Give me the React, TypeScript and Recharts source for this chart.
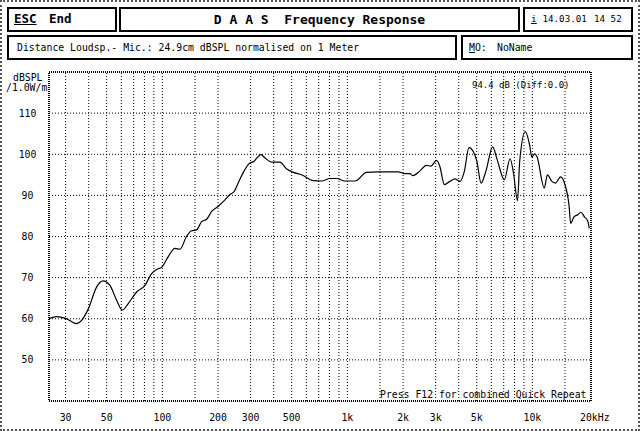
import React from "react";
import { LineChart, Line, XAxis, YAxis, ReferenceLine, ReferenceArea } from "recharts";

const freqHz = [
  24.4, 26.8, 30, 34.4, 36.6, 39.8, 44.1, 47.9, 52.1, 56.6, 60.7, 65.4, 72.6, 80.5, 87.5, 93.1, 99,
  107.6, 117, 124.5, 135, 144, 153, 163, 173.6, 184.7, 200, 218, 232, 245, 257, 274, 291, 313, 341,
  359, 390, 432, 470, 511, 566, 655, 726, 807, 875, 968, 1104, 1270, 1470, 1886, 2045, 2175, 2265,
  2460, 2676, 2825, 3030, 3160, 3344, 3583, 3817, 4066, 4290, 4540, 4800, 5010, 5280, 5610, 6100,
  6450, 7050, 7575, 7900, 8310, 8540, 9150, 9650, 9935, 10260, 10570, 11600, 12050, 12750, 13320,
  14200, 15000, 15800, 16100, 16800, 17600, 18300, 19100, 19900, 20300,
];
const splDb = [
  60.0, 60.5, 60.1, 58.8, 59.6, 62.4, 67.7, 69.2, 68.1, 64.5, 62.1, 63.7, 66.5, 68.1, 71.0, 72.0, 72.5,
  75.1, 77.1, 76.9, 80.0, 81.4, 81.6, 83.6, 84.2, 86.1, 87.3, 88.9, 90.2, 91.0, 93.0, 95.6, 97.5, 98.3, 99.9,
  99.1, 98.1, 98.1, 96.4, 95.6, 95.0, 93.6, 93.5, 94.1, 94.1, 93.5, 93.5, 95.6, 95.7, 95.7, 95.3, 95.3, 94.8,
  95.9, 97.3, 97.1, 98.5, 97.1, 92.6, 93.4, 94.0, 93.4, 95.9, 101.6, 100.6, 98.3, 93.0, 95.9, 101.8,
  98.7, 93.8, 98.9, 95.5, 88.7, 98.3, 105.5, 102.4, 99.3, 100.1, 99.5, 91.8, 95.0, 93.4, 93.0,
  94.5, 92.6, 87.3, 83.2, 84.8, 85.3, 85.9, 84.8, 83.8, 82.0,
];

const gridFreqs = [
  30, 40, 50, 60, 70, 80, 90, 100, 150, 200, 300, 400, 500, 600, 700, 800, 900, 1000, 1500, 2000,
  3000, 4000, 5000, 6000, 7000, 8000, 9000, 10000, 15000,
];
const freqTicks = [30, 50, 100, 200, 300, 500, 1000, 2000, 3000, 5000, 10000, 20000];
const levelTicks = [50, 60, 70, 80, 90, 100, 110];
const freqDomain = [24.4, 20740];
const levelDomain = [40, 120];

const data = freqHz.map((f, i) => ({ f, db: splDb[i] }));

const mono = '"DejaVu Sans Mono", monospace';

function fmtFreq(v: number) {
  if (v === 20000) return "20kHz";
  return v >= 1000 ? `${v / 1000}k` : String(v);
}

function XTick(props: any) {
  const { x, y, payload } = props;
  const last = payload.value === 20000;
  return (
    <text
      x={last ? x - 8 : x}
      y={y + 18}
      textAnchor={last ? "start" : "middle"}
      fontFamily={mono}
      fontSize={9.8}
      fill="#000"
    >
      {fmtFreq(payload.value)}
    </text>
  );
}

function YTick(props: any) {
  const { x, y, payload } = props;
  return (
    <text x={x - 19.5} y={y + 3.5} textAnchor="middle" fontFamily={mono} fontSize={9.8} fill="#000">
      {payload.value}
    </text>
  );
}

function Txt({ x, y, size = 9.8, bold, children, style }: any) {
  return (
    <div
      style={{
        position: "absolute",
        left: x,
        top: y - 7,
        lineHeight: "14px",
        fontSize: size,
        fontFamily: mono,
        fontWeight: bold ? "bold" : "normal",
        whiteSpace: "pre",
        color: "#000",
        ...style,
      }}
    >
      {children}
    </div>
  );
}

function Box({ x, y, w, h }: any) {
  return (
    <div
      style={{
        position: "absolute",
        left: x,
        top: y,
        width: w,
        height: h,
        border: "2px solid #000",
        boxSizing: "border-box",
      }}
    />
  );
}

export default function App() {
  return (
    <div
      style={{
        position: "fixed",
        left: 0,
        top: 0,
        width: 640,
        height: 431,
        background: "#fff",
        overflow: "hidden",
      }}
    >
      <div
        style={{
          position: "absolute",
          inset: 0,
          border: "2px dotted #555",
          boxSizing: "border-box",
        }}
      />

      <Box x={7} y={7} w={110} h={25} />
      <Box x={119} y={7} w={401} h={25} />
      <Box x={523} y={7} w={110} h={25} />
      <Box x={7} y={35} w={450} h={25} />
      <Box x={461} y={35} w={172} h={25} />

      <Txt x={14} y={19} size={12.5} bold style={{ textDecoration: "underline" }}>
        ESC
      </Txt>
      <Txt x={49} y={19} size={12.5} bold>
        End
      </Txt>
      <Txt x={119} y={19.5} size={13} bold style={{ width: 401, textAlign: "center" }}>
        D A A S  Frequency Response
      </Txt>
      <Txt x={531} y={19} size={9.5} style={{ textDecoration: "underline" }}>
        i
      </Txt>
      <Txt x={542.5} y={19} size={9.2}>
        14.03.01
      </Txt>
      <Txt x={594} y={19} size={9.2}>
        14 52
      </Txt>
      <Txt x={17} y={47.5}>
        Distance Loudsp.- Mic.: 24.9cm dBSPL normalised on 1 Meter
      </Txt>
      <Txt x={469} y={47.5}>
        <span style={{ textDecoration: "underline" }}>M</span>O:
      </Txt>
      <Txt x={497} y={47.5}>
        NoName
      </Txt>

      <div style={{ position: "absolute", left: 0, top: 0 }}>
        <LineChart width={640} height={431} data={data} margin={{ top: 72, right: 49, bottom: 0, left: 0 }}>
          <XAxis
            dataKey="f"
            type="number"
            scale="log"
            domain={freqDomain}
            ticks={freqTicks}
            interval={0}
            allowDataOverflow
            height={30}
            axisLine={false}
            tickLine={false}
            tickSize={0}
            tick={XTick}
          />
          <YAxis
            type="number"
            domain={levelDomain}
            ticks={levelTicks}
            interval={0}
            allowDataOverflow
            width={49}
            axisLine={false}
            tickLine={false}
            tickSize={0}
            tick={YTick}
          />
          {levelTicks.map((v) => (
            <ReferenceLine key={`h${v}`} y={v} stroke="#000" strokeDasharray="1 2" />
          ))}
          {gridFreqs.map((f) => (
            <ReferenceLine key={`v${f}`} x={f} stroke="#000" strokeDasharray="1 2" />
          ))}
          <ReferenceArea
            x1={freqDomain[0]}
            x2={freqDomain[1]}
            y1={levelDomain[0]}
            y2={levelDomain[1]}
            fill="none"
            stroke="#000"
            strokeWidth={2}
            strokeDasharray="1 1"
            ifOverflow="visible"
          />
          <Line
            type="monotone"
            dataKey="db"
            stroke="#000"
            strokeWidth={1.2}
            dot={false}
            isAnimationActive={false}
          />
        </LineChart>
      </div>

      <Txt x={13} y={78}>
        dBSPL
      </Txt>
      <Txt x={6} y={88}>
        /1.0W/m
      </Txt>
      <Txt x={472} y={85} size={9}>
        94.4 dB (Diff:0.0)
      </Txt>
      <Txt x={380} y={395}>
        Press F12 for combined Quick Repeat
      </Txt>
    </div>
  );
}
